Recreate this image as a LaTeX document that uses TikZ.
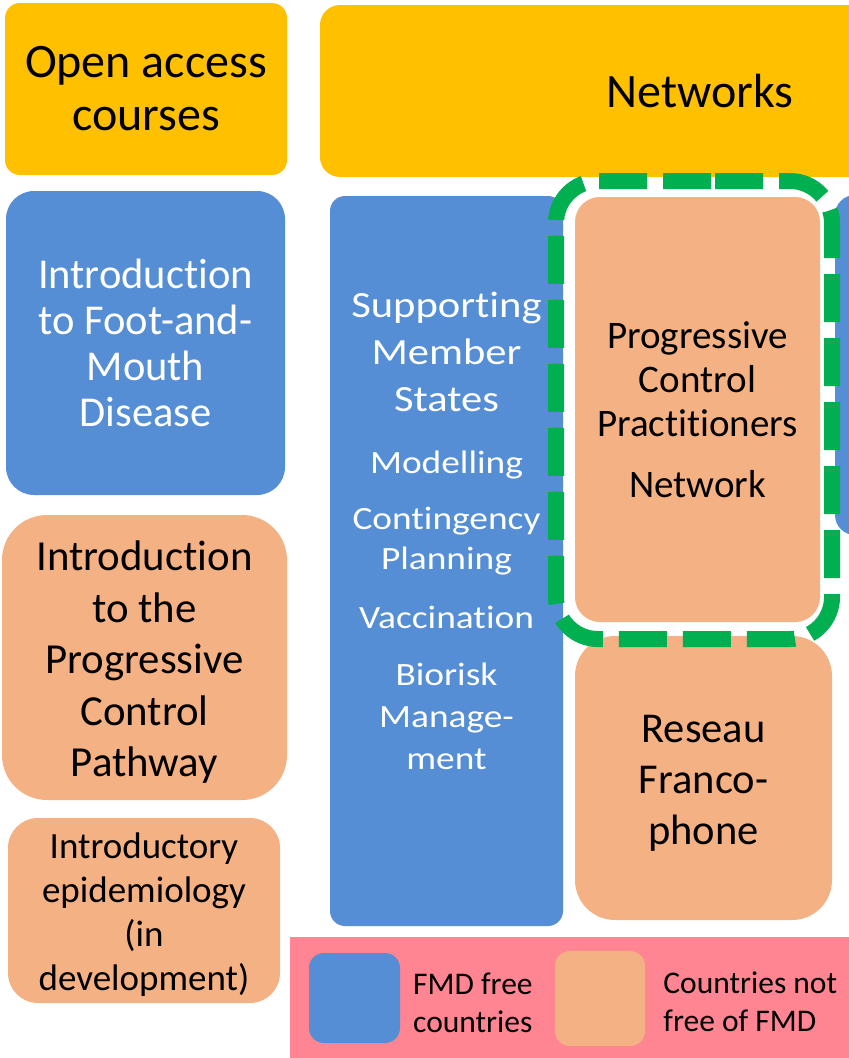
\documentclass[tikz,border=0pt]{standalone}
\usepackage{fontspec}
\setmainfont[Ligatures={NoCommon,NoContextual}, Contextuals=NoAlternate]{Carlito}
\newfontfamily\widefont[FakeStretch=1.15, Ligatures={NoCommon,NoContextual}, Contextuals=NoAlternate]{Carlito}
\usetikzlibrary{
positioning%
}
\definecolor{gold}{HTML}{FFC000}
\definecolor{fmdblue}{HTML}{558ED5}
\definecolor{fmdorange}{HTML}{F4B183}
\definecolor{fmdgreen}{HTML}{00B050}
\definecolor{fmdpink}{HTML}{FF8593}
\newcommand{\fsz}[2]{\fontsize{#1pt}{#2pt}\selectfont}
\tikzset{
    tile/.style={inner sep=0pt, align=center},
    goldtile/.style={tile, fill=gold},
    freetile/.style={tile, fill=fmdblue, text=white},
    endtile/.style={tile, fill=fmdorange},
    freetext/.style={inner sep=0pt, align=center, text=white},
    legendtext/.style={inner sep=0pt, align=left, font=\fsz{31.5}{38}},
    pcpframe/.style={draw=fmdgreen, line width=16pt, dash pattern=on 48pt off 16pt, rounded corners=42pt}
}

\begin{document}
\begin{tikzpicture}[x=1pt, y=-1pt]
            \useasboundingbox (0,0) rectangle (849,1058);
            \clip (0,0) rectangle (849,1058);
            \fill[white] (0,0) rectangle (849,1058);
            % ---- top row
            \node[goldtile, minimum width=282, minimum height=172, rounded corners=15, font=\fsz{48}{53}] (open) at (146,89) {Open access\\courses};
            \node[goldtile, minimum width=760, minimum height=172, rounded corners=20] (netbox) at (700,91) {};
            \node[font=\fsz{48}{53}] (networks) at (700,91) {Networks};
            % ---- courses
            \node[freetile, minimum width=279, minimum height=304, rounded corners=28, font=\fsz{42.5}{46}] (fmd) at (145.5,343) {Introduction\\to Foot-and-\\Mouth\\Disease};
            \node[endtile, minimum width=285, minimum height=285, rounded corners=45, font=\fsz{42.8}{51.5}] (pcp) at (144.5,657.5) {};
            \node[font=\fsz{42.8}{51.5}, align=center] (pcptext) at (144.5,662.5) {Introduction\\to the\\Progressive\\Control\\Pathway};
            \node[endtile, minimum width=272, minimum height=185, rounded corners=30] (epi) at (144,910.5) {};
            \node[font=\fsz{37}{44}, align=center] (epitext) at (144,914.5) {Introductory\\epidemiology\\(in\\development)};
            % ---- supporting member states
            \node[freetile, minimum width=233, minimum height=730, rounded corners=15] (sms) at (446.5,561) {};
            \node[freetext, font=\widefont\fsz{37}{47}] (smshead) at (446.5,352) {Supporting\\Member\\States};
            \node[freetext, font=\widefont\fsz{32.5}{40}] (model) at (446.5,465) {Modelling};
            \node[freetext, font=\widefont\fsz{32.5}{40}] (conting) at (446.5,541) {Contingency\\Planning};
            \node[freetext, font=\widefont\fsz{32.5}{40}] (vacc) at (446.5,617) {Vaccination};
            \node[freetext, font=\widefont\fsz{32.5}{42}] (biorisk) at (446.5,716) {Biorisk\\Manage-\\ment};
            % ---- networks
            \node[endtile, minimum width=245, minimum height=425, rounded corners=25, font=\fsz{39}{44}] (pcpn) at (697.5,409.5) {Progressive\\Control\\Practitioners\\[17pt]Network};
            \node[endtile, minimum width=257, minimum height=284, rounded corners=40] (reseau) at (703.5,778) {};
            \node[font=\fsz{42.5}{51}, align=center] (reseautext) at (703.5,783) {Reseau\\Franco-\\phone};
            \node[freetile, minimum width=45, minimum height=340, rounded corners=20] (edge) at (857.5,365) {};
            % ---- dashed frame
            \path[pcpframe]
            (673,181) --
            (832,181) --
            (832,639) --
            (556,639) --
            (556,181) --
            cycle;
            % ---- legend
            \node[fill=fmdpink, inner sep=0pt, minimum width=610, minimum height=143] (legend) at (595,1008.5) {};
            \node[freetile, minimum width=91, minimum height=90, rounded corners=15] (freekey) at (354.5,998) {};
            \node[endtile, minimum width=90, minimum height=95, rounded corners=15] (endkey) at (600,998.5) {};
            \node[legendtext, anchor=west] (freelabel) at (413,1003) {FMD free\\countries};
            \node[legendtext, right=18pt of endkey, yshift=-3pt] (endlabel) {Countries not\\free of FMD};
\end{tikzpicture}
\end{document}
